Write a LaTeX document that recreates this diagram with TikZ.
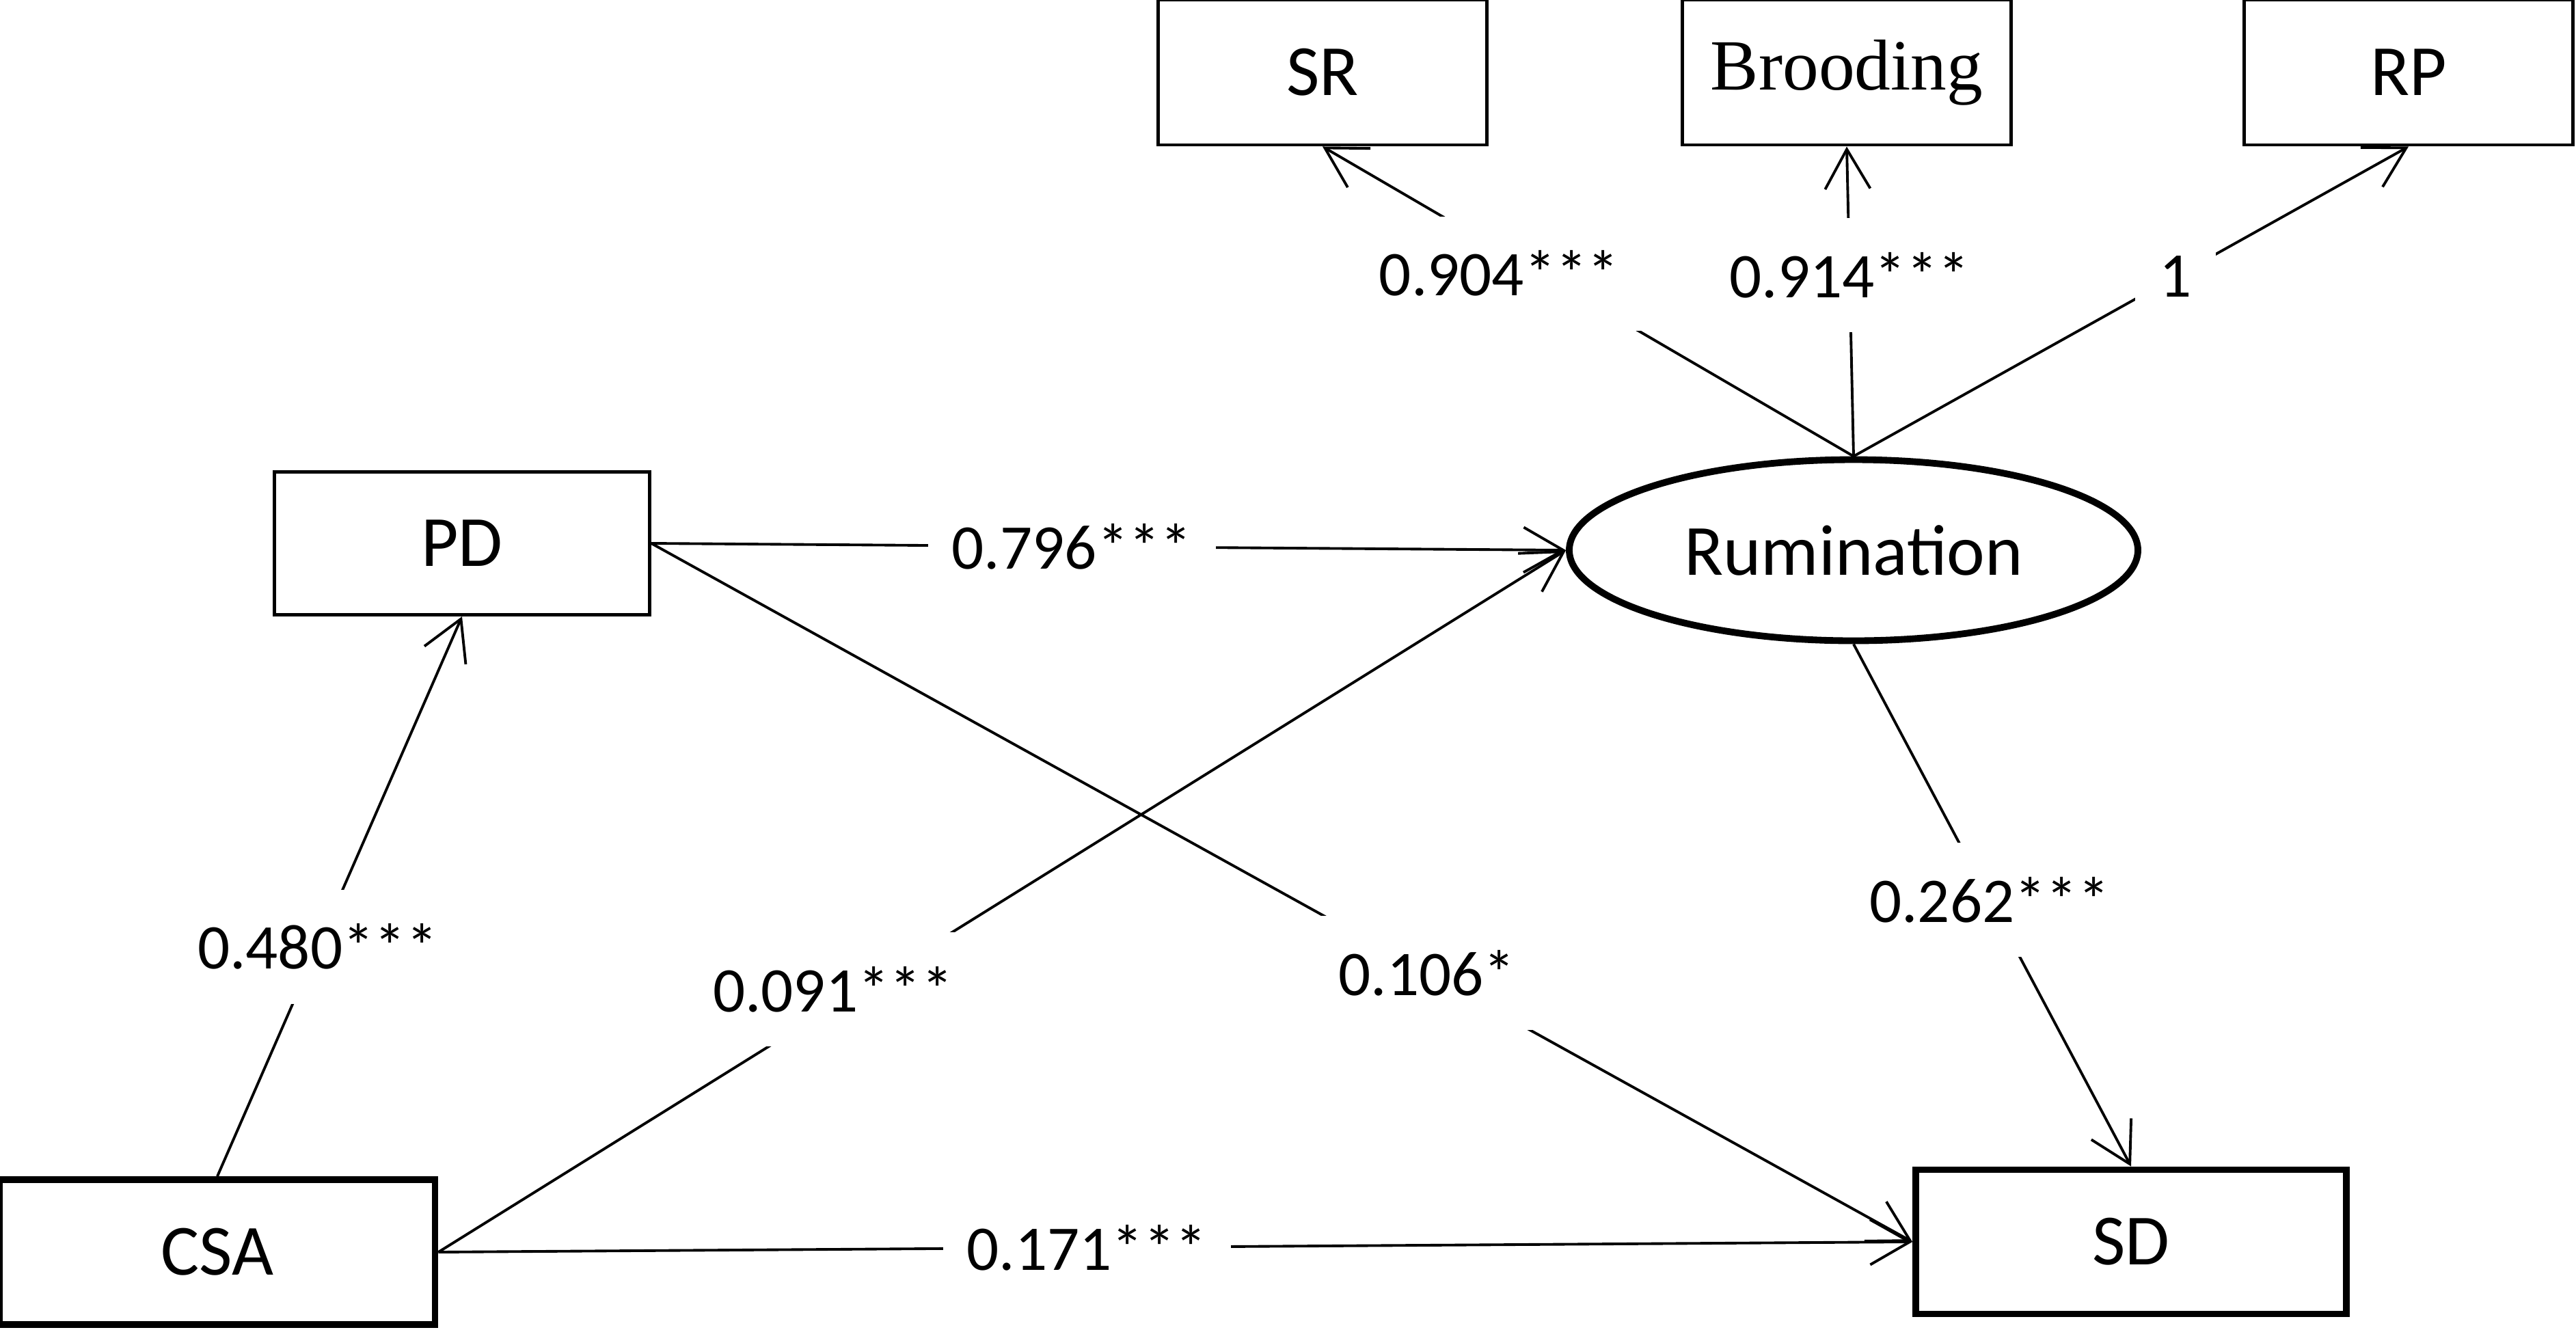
\documentclass[tikz,border=0pt]{standalone}
\usepackage{fontspec}
\setmainfont{Carlito}
\newfontfamily\serifrm{Liberation Serif}
\usetikzlibrary{positioning,arrows.meta,shapes.geometric}

\begin{document}
\begin{tikzpicture}[>={Straight Barb[length=5.8mm,width=6.6mm]},
  box/.style={rectangle, draw, line width=1.4pt, minimum width=4.81cm, minimum height=2.12cm, inner sep=0pt, font=\fontsize{30}{36}\selectfont},
  heavybox/.style={box, line width=2.8pt},
  link/.style={->, line width=1.1pt},
  coef/.style={fill=white, inner xsep=3.5mm, inner ysep=5mm, font=\fontsize{26.5}{32}\selectfont}]

  \useasboundingbox (0,0) rectangle (37.69,-19.45);

  % Indicators
  \node[box] (sr) at (19.35,-1.06) {SR};
  \node[box] (brood) at (27.02,-1.06) {\serifrm Brooding};
  \node[box] (rp) at (35.24,-1.06) {RP};

  % Latent and observed variables
  \node[ellipse, draw, line width=2.8pt, minimum width=8.32cm, minimum height=2.65cm, inner sep=0pt, font=\fontsize{30}{36}\selectfont] (rum) at (27.12,-8.05) {Rumination};
  \node[box, minimum width=5.49cm, minimum height=2.09cm] (pd) at (6.76,-7.95) {PD};
  \node[heavybox, minimum width=6.37cm] (csa) at (3.18,-18.32) {CSA};
  \node[heavybox, minimum width=6.30cm, minimum height=2.11cm] (sd) at (31.18,-18.17) {SD};

  % Loadings
  \draw[link] (rum.north) -- node[coef, pos=0.59, xshift=-6mm] {0.904***} (sr.south);
  \draw[link] (rum.north) -- node[coef, pos=0.585] {0.914***} (brood.south);
  \draw[link] (rum.north) -- node[coef, pos=0.58] {1} (rp.south);

  % Paths
  \draw[link] (csa.north) -- node[coef, pos=0.41] {0.480***} (pd.south);
  \draw[link] (pd.east) -- node[coef, pos=0.46] {0.796***} (rum.west);
  \draw[link] (csa.east) -- node[coef, pos=0.35, yshift=2.5mm] {0.091***} (rum.west);
  \draw[link] (pd.east) -- node[coef, pos=0.615] {0.106*} (sd.west);
  \draw[link] (rum.south) -- node[coef, pos=0.49] {0.262***} (sd.north);
  \draw[link] (csa.east) -- node[coef, pos=0.44] {0.171***} (sd.west);

\end{tikzpicture}
\end{document}
